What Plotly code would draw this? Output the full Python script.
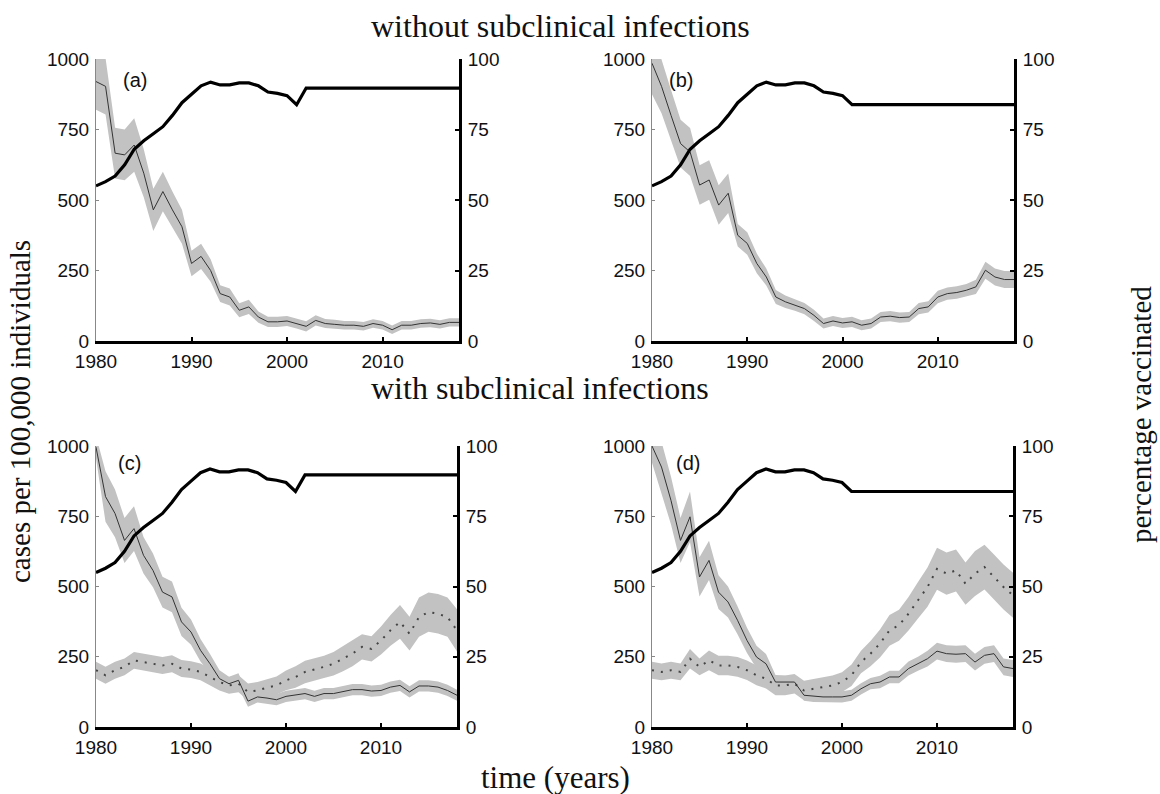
import plotly.graph_objects as go

years = list(range(1980, 2019))

# panel (a): without subclinical, scenario 1
a_cases = [920,903,666,660,695,595,465,530,465,405,275,300,250,168,156,109,121,85,68,68,71,62,52,73,62,59,56,56,52,62,56,40,56,56,62,64,59,66,66]
a_spread = [100,100,90,90,95,85,75,70,65,60,45,45,40,30,30,25,25,20,18,18,18,18,18,18,16,16,15,15,15,15,15,15,15,15,15,15,15,15,15]

# panel (b): without subclinical, scenario 2
b_cases = [985,903,800,700,670,553,571,482,524,375,346,275,227,156,139,127,115,91,62,71,64,68,56,62,85,88,83,85,115,121,156,168,172,180,192,251,227,218,218]
b_spread = [110,95,90,85,85,70,70,70,70,40,40,35,30,25,22,20,20,20,18,18,18,18,18,18,18,18,18,18,20,20,22,22,22,22,25,30,30,30,30]

# panel (c): with subclinical, scenario 1
c_clin = [996,820,760,664,706,611,557,480,463,374,338,273,225,172,154,166,92,107,103,97,109,115,119,109,119,119,127,133,133,128,130,142,148,125,146,146,142,130,113]
c_clin_spread = [40,90,85,80,80,65,60,55,55,50,45,40,35,30,25,25,20,20,20,20,20,20,20,20,20,20,20,20,20,20,20,20,20,20,20,20,20,20,20]
c_sub = [202,184,202,214,237,231,225,219,225,208,204,196,178,160,148,154,125,130,140,148,166,178,196,204,214,225,243,261,285,278,308,344,374,332,391,409,403,391,344]
c_sub_spread = [30,30,30,30,30,30,30,30,30,30,30,30,30,30,30,30,30,30,30,32,35,38,40,40,40,42,45,45,45,45,50,55,60,60,70,70,70,70,75]

# panel (d): with subclinical, scenario 2
d_clin = [1000,925,806,664,748,534,593,480,445,380,308,249,225,160,160,160,113,109,107,107,107,113,136,154,160,178,178,208,225,243,270,261,259,261,231,255,261,214,208]
d_clin_spread = [60,90,85,80,90,70,70,60,55,50,45,40,35,25,22,20,20,20,20,20,20,20,20,20,22,22,22,25,25,28,30,30,30,30,30,30,30,30,30]
d_sub = [202,196,202,196,243,214,237,219,219,214,202,184,172,148,148,154,130,136,142,148,160,184,231,261,297,344,362,403,451,498,563,546,557,510,546,569,534,498,469]
d_sub_spread = [30,30,30,30,35,30,35,35,35,35,35,35,35,35,35,35,35,35,35,35,35,38,40,45,50,55,55,60,65,70,75,75,75,75,80,80,80,80,80]

# vaccination coverage (%)
vac_a = [55,56.5,58.5,62.5,68,71,73.5,76,80,84.5,87.5,90.5,91.8,90.8,90.8,91.5,91.5,90.5,88.3,87.8,87,83.8,89.7,
         89.7,89.7,89.7,89.7,89.7,89.7,89.7,89.7,89.7,89.7,89.7,89.7,89.7,89.7,89.7,89.7]
vac_b = [55,56.5,58.5,62.5,68,71,73.5,76,80,84.5,87.5,90.5,91.8,90.8,90.8,91.5,91.5,90.5,88.3,87.8,87,
         83.8,83.8,83.8,83.8,83.8,83.8,83.8,83.8,83.8,83.8,83.8,83.8,83.8,83.8,83.8,83.8,83.8,83.8]

panel_labels = ["(a)", "(b)", "(c)", "(d)"]
left_ticks = [0, 250, 500, 750, 1000]
right_ticks = [0, 25, 50, 75, 100]
x_ticks = [1980, 1990, 2000, 2010]

W, H = 1160, 794
BAND = "#c2c2c2"

def fx(px):
    return px / W

def fy(py):
    return 1 - py / H

# pixel boxes in window coords (left, right, top, bottom)
boxes = [(96, 459, 59, 341), (652, 1014, 59, 341), (96, 457, 446, 727), (652, 1013, 446, 727)]

panels = [
    ([(a_cases, a_spread, "solid")], vac_a),
    ([(b_cases, b_spread, "solid")], vac_b),
    ([(c_sub, c_sub_spread, "dot"), (c_clin, c_clin_spread, "solid")], vac_a),
    ([(d_sub, d_sub_spread, "dot"), (d_clin, d_clin_spread, "solid")], vac_b),
]

fig = go.Figure()
layout = {}
sans = "Liberation Sans, Arial, sans-serif"
serif = "Liberation Serif, Times New Roman, serif"
TICKFONT = dict(family=sans, size=19, color="#111")

for i, ((series, vac), (l, r, t, b)) in enumerate(zip(panels, boxes)):
    xi = i + 1
    yl = 2 * i + 1
    yr = 2 * i + 2
    xname = "x" if xi == 1 else f"x{xi}"
    ylname = "y" if yl == 1 else f"y{yl}"
    yrname = f"y{yr}"
    for vals, spr, dash in series:
        up = [v + s for v, s in zip(vals, spr)]
        lo = [v - s for v, s in zip(vals, spr)]
        fig.add_trace(go.Scatter(x=years + years[::-1], y=up + lo[::-1], fill="toself",
                                 fillcolor=BAND, line=dict(width=0), mode="lines",
                                 hoverinfo="skip", showlegend=False, xaxis=xname, yaxis=ylname))
    for vals, spr, dash in series:
        if dash == "dot":
            fig.add_trace(go.Scatter(x=years, y=vals, mode="lines",
                                     line=dict(color="#444444", width=2, dash="2px,7px"),
                                     showlegend=False, xaxis=xname, yaxis=ylname))
        else:
            fig.add_trace(go.Scatter(x=years, y=vals, mode="lines",
                                     line=dict(color="#333333", width=1),
                                     showlegend=False, xaxis=xname, yaxis=ylname))
    fig.add_trace(go.Scatter(x=years, y=vac, mode="lines",
                             line=dict(color="black", width=3.2),
                             showlegend=False, xaxis=xname, yaxis=yrname))

    xd = [fx(l), fx(r)]
    yd = [fy(b), fy(t)]
    xkey = "xaxis" if xi == 1 else f"xaxis{xi}"
    ylkey = "yaxis" if yl == 1 else f"yaxis{yl}"
    yrkey = f"yaxis{yr}"
    layout[xkey] = dict(domain=xd, anchor=ylname, range=[1980, 2018], tickvals=x_ticks,
                        ticktext=[str(v) for v in x_ticks], automargin=False,
                        ticks="inside", ticklen=4, tickwidth=2, tickcolor="black",
                        showline=True, linewidth=3, linecolor="black", showgrid=False,
                        zeroline=False, tickfont=TICKFONT, ticklabelstandoff=1)
    layout[ylkey] = dict(domain=yd, anchor=xname, range=[0, 1000], tickvals=left_ticks,
                         ticks="inside", ticklen=3, tickcolor="#888", automargin=False,
                         showline=True, linewidth=1, linecolor="#888", showgrid=False,
                         zeroline=False, tickfont=TICKFONT, ticklabelstandoff=2)
    layout[yrkey] = dict(overlaying=ylname, anchor=xname, side="right", range=[0, 100],
                         tickvals=right_ticks, ticks="inside", ticklen=4, tickwidth=2,
                         tickcolor="black", showline=True, linewidth=3, linecolor="black",
                         showgrid=False, zeroline=False, automargin=False,
                         tickfont=TICKFONT, ticklabelstandoff=2)

annotations = []
label_pos = [(1984.1, 925), (1983.0, 925), (1983.5, 940), (1983.8, 940)]
for i, (lab, (px, py)) in enumerate(zip(panel_labels, label_pos)):
    yl = 2 * i + 1
    annotations.append(dict(text=lab, x=px, y=py, xref="x" if i == 0 else f"x{i+1}",
                            yref="y" if yl == 1 else f"y{yl}", showarrow=False,
                            xanchor="center", yanchor="middle",
                            font=dict(family=sans, size=20, color="#111")))

def title(text, px, py, size, angle=0):
    return dict(text=text, x=fx(px), y=fy(py), xref="paper", yref="paper",
                xanchor="center", yanchor="middle", showarrow=False, textangle=angle,
                font=dict(family=serif, size=size, color="#111"))

annotations += [
    title("without subclinical infections", 560, 26, 32),
    title("with subclinical infections", 540, 388, 32),
    title("time (years)", 555, 777, 31),
    title("cases per 100,000 individuals", 20, 412, 29, -90),
    title("percentage vaccinated", 1141, 415, 29, -90),
]

fig.update_layout(width=W, height=H, margin=dict(l=0, r=0, t=0, b=0, autoexpand=False),
                  paper_bgcolor="white", plot_bgcolor="white",
                  annotations=annotations, **layout)

fig.write_html("out.html", config={"displayModeBar": False},
               post_script="document.body.style.margin='0';document.body.style.padding='0';document.body.style.overflow='hidden';")
